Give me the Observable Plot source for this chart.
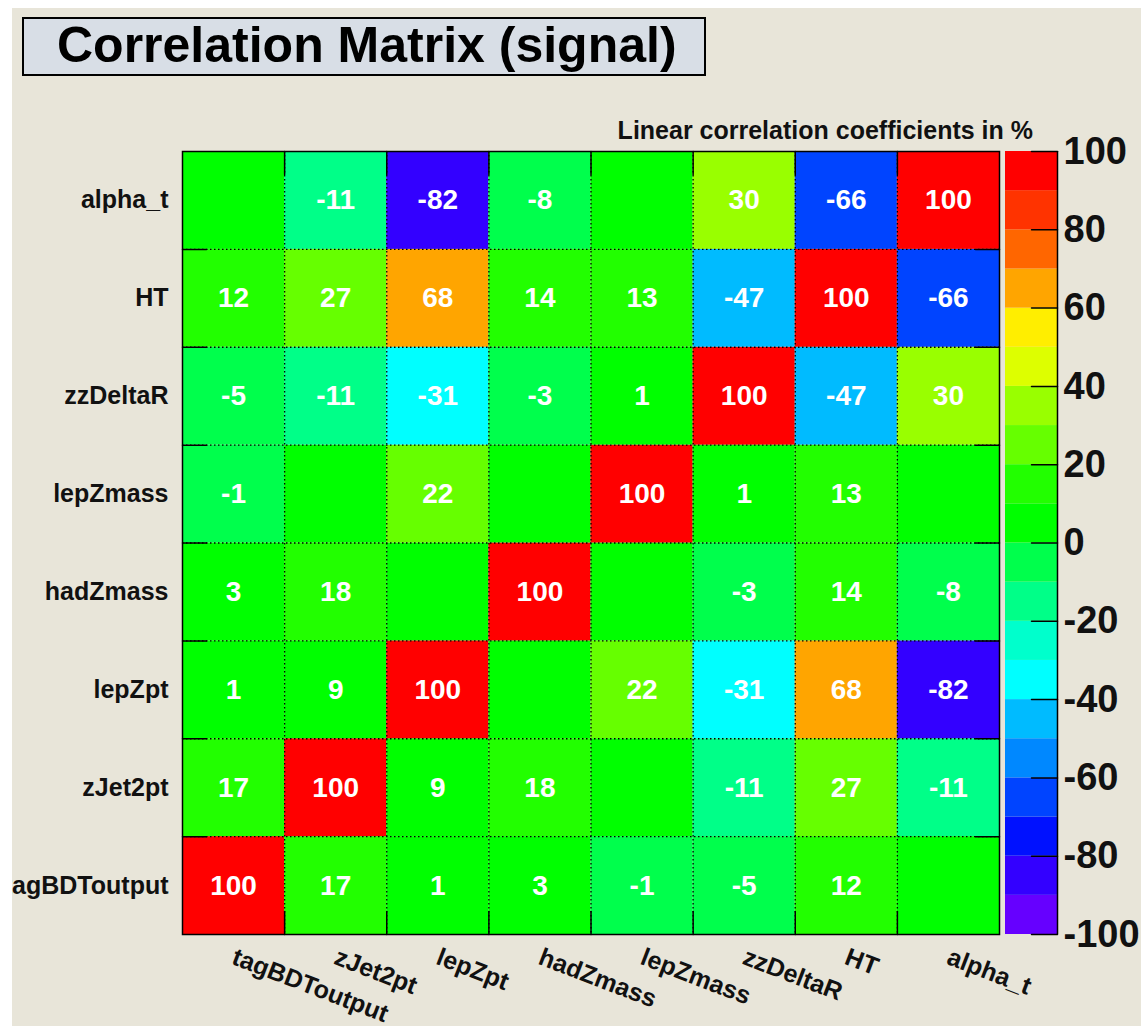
<!DOCTYPE html>
<html>
<head>
<meta charset="utf-8">
<script src="https://cdn.jsdelivr.net/npm/d3@7"></script>
<script src="https://cdn.jsdelivr.net/npm/@observablehq/plot@0.6"></script>
<style>
  html, body { margin: 0; padding: 0; background: #ffffff; }
  #canvas {
    position: absolute; left: 12px; top: 8px; width: 1129px; height: 1018px;
    background: #e8e5d9; overflow: hidden;
    font-family: "Liberation Sans", Arial, Helvetica, sans-serif;
  }
  #title {
    position: absolute; left: 10px; top: 9px; width: 684px; height: 59px;
    box-sizing: border-box; border: 2px solid #000; background: #d8dee6;
    font-weight: bold; font-size: 50px; line-height: 52px; padding-left: 33px;
    color: #000; white-space: nowrap;
  }
  #ztitle {
    position: absolute; right: 108px; top: 110px;
    font-weight: bold; font-size: 25px; line-height: 24px; color: #111; white-space: nowrap;
  }
  #matrix { position: absolute; left: 0; top: 0; }
  #colorbar { position: absolute; left: 993px; top: 0; }
</style>
</head>
<body>
<div id="canvas">
  <div id="matrix"></div>
  <div id="colorbar"></div>
  <div id="title">Correlation Matrix (signal)</div>
  <div id="ztitle">Linear correlation coefficients in %</div>
</div>
<script>
// ---- data ----
const variables = ["tagBDToutput", "zJet2pt", "lepZpt", "hadZmass", "lepZmass", "zzDeltaR", "HT", "alpha_t"];

// one row per variable (bottom row first), columns in the same order as `variables`
const row_tagBDToutput = [100, 17, 1, 3, -1, -5, 12, 0];
const row_zJet2pt      = [17, 100, 9, 18, 0, -11, 27, -11];
const row_lepZpt       = [1, 9, 100, 0, 22, -31, 68, -82];
const row_hadZmass     = [3, 18, 0, 100, 0, -3, 14, -8];
const row_lepZmass     = [-1, 0, 22, 0, 100, 1, 13, 0];
const row_zzDeltaR     = [-5, -11, -31, -3, 1, 100, -47, 30];
const row_HT           = [12, 27, 68, 14, 13, -47, 100, -66];
const row_alpha_t      = [0, -11, -82, -8, 0, 30, -66, 100];

const colorThresholds = [-90, -80, -70, -60, -50, -40, -30, -20, -10, 0, 10, 20, 30, 40, 50, 60, 70, 80, 90];
const palette = ["#6600ff", "#3300ff", "#0011ff", "#0044ff", "#0088ff", "#00bbff", "#00ffff", "#00ffcc", "#00ff88", "#00ff4c",
                 "#00ff00", "#22ff00", "#66ff00", "#99ff00", "#ddff00", "#ffee00", "#ffa500", "#ff6600", "#ff3300", "#ff0000"];
const colorbarTicks = [-100, -80, -60, -40, -20, 0, 20, 40, 60, 80, 100];
const colorbarRange = [-100, 100];

// ---- derived tables ----
const rows = [row_tagBDToutput, row_zJet2pt, row_lepZpt, row_hadZmass, row_lepZmass, row_zzDeltaR, row_HT, row_alpha_t];
const cells = rows.flatMap((vals, r) => vals.map((v, c) => ({row: r, col: c, value: v})));
const n = variables.length;
const boundaries = d3.range(1, n);
const colorScale = {type: "threshold", domain: colorThresholds, range: palette};
const font = "'Liberation Sans', Arial, Helvetica, sans-serif";
const tickShape = {draw(context, l) { context.moveTo(0, 0); context.lineTo(0, -l); }};

const matrix = Plot.plot({
  width: 1000, height: 1018,
  marginLeft: 170, marginRight: 13, marginTop: 143, marginBottom: 92,
  style: {background: "transparent", fontFamily: font, overflow: "visible"},
  x: {domain: [0, n], axis: null},
  y: {domain: [0, n], axis: null},
  color: colorScale,
  marks: [
    Plot.rect(cells, {x1: d => d.col, x2: d => d.col + 1, y1: d => d.row, y2: d => d.row + 1, fill: d => d.value}),
    Plot.ruleX(boundaries, {x: d => d, stroke: "#000", strokeWidth: 1.3, strokeDasharray: "1.5,2.5"}),
    Plot.ruleY(boundaries, {y: d => d, stroke: "#000", strokeWidth: 1.3, strokeDasharray: "1.5,2.5"}),
    Plot.text(cells.filter(d => d.value !== 0), {
      x: d => d.col + 0.5, y: d => d.row + 0.5, text: d => String(d.value),
      fill: "white", fontSize: 28, fontWeight: "bold"
    }),
    // inner ticks on all four sides at the cell boundaries
    Plot.vector(boundaries, {x: d => d, frameAnchor: "top", rotate: 180, length: 23, anchor: "start", shape: tickShape, stroke: "#000", strokeWidth: 1.5}),
    Plot.vector(boundaries, {x: d => d, frameAnchor: "bottom", rotate: 0, length: 23, anchor: "start", shape: tickShape, stroke: "#000", strokeWidth: 1.5}),
    Plot.vector(boundaries, {y: d => d, frameAnchor: "left", rotate: 90, length: 24, anchor: "start", shape: tickShape, stroke: "#000", strokeWidth: 1.5}),
    Plot.vector(boundaries, {y: d => d, frameAnchor: "right", rotate: 270, length: 24, anchor: "start", shape: tickShape, stroke: "#000", strokeWidth: 1.5}),
    Plot.frame({stroke: "#000", strokeWidth: 1.5}),
    // y labels
    Plot.text(variables, {
      y: (d, i) => i + 0.5, text: d => d, frameAnchor: "left", textAnchor: "end", dx: -14,
      fontSize: 25, fontWeight: "bold", fill: "#111"
    }),
    // x labels, rotated
    Plot.text(variables, {
      x: (d, i) => i + 0.5, text: d => d, frameAnchor: "bottom", textAnchor: "start", lineAnchor: "bottom",
      rotate: 21, dx: -3, dy: 29, fontSize: 25, fontWeight: "bold", fill: "#111"
    })
  ]
});
document.getElementById("matrix").appendChild(matrix);

const bins = palette.map((c, i) => ({
  lo: i === 0 ? colorbarRange[0] : colorThresholds[i - 1],
  hi: i === palette.length - 1 ? colorbarRange[1] : colorThresholds[i]
}));

const colorbar = Plot.plot({
  width: 136, height: 1018,
  marginLeft: 0, marginRight: 84, marginTop: 143, marginBottom: 92,
  style: {background: "transparent", fontFamily: font, overflow: "visible"},
  x: {domain: [0, 1], axis: null},
  y: {domain: colorbarRange, axis: null},
  color: colorScale,
  marks: [
    Plot.rect(bins, {x1: 0, x2: 1, y1: d => d.lo, y2: d => d.hi, fill: d => (d.lo + d.hi) / 2}),
    Plot.ruleX([1], {stroke: "#000", strokeWidth: 1.5}),
    Plot.vector(colorbarTicks, {y: d => d, frameAnchor: "right", rotate: 270, length: 26, anchor: "start", shape: tickShape, stroke: "#000", strokeWidth: 1.5}),
    Plot.text(colorbarTicks, {
      y: d => d, text: d => String(d), frameAnchor: "right", textAnchor: "start", dx: 6,
      fontSize: 38, fontWeight: "bold", fill: "#111"
    })
  ]
});
document.getElementById("colorbar").appendChild(colorbar);
</script>
</body>
</html>
